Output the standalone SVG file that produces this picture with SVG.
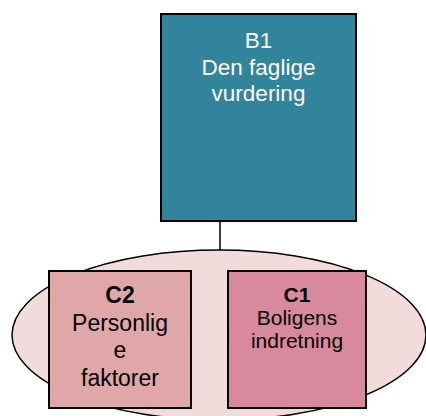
<svg xmlns="http://www.w3.org/2000/svg" width="426" height="416" viewBox="0 0 426 416">
<style>
.box{stroke:#000;stroke-width:2}
.t{font-family:"Liberation Sans",Arial,sans-serif;text-anchor:middle}
</style>
<rect width="426" height="416" fill="#fff"/>
<g id="connectors"><line x1="220" y1="221" x2="220" y2="251" stroke="#000" stroke-width="1.5"/></g>
<g id="group-ellipse"><ellipse cx="219" cy="335" rx="207" ry="85" fill="#F2DCDB" stroke="#000" stroke-width="1.5"/></g>
<g id="B1"><rect class="box" x="161" y="14" width="195" height="207" fill="#31849B"/>
<text class="t" fill="#fff" font-size="22.5"><tspan x="258.5" y="48">B1</tspan><tspan x="258.5" y="75">Den faglige</tspan><tspan x="258.5" y="101">vurdering</tspan></text></g>
<g id="C2"><rect class="box" x="49" y="271" width="142" height="137" fill="#E0A7A8"/>
<text class="t" fill="#000" font-size="23"><tspan x="120" y="303" font-weight="bold">C2</tspan><tspan x="120" y="331">Personlig</tspan><tspan x="120" y="358">e</tspan><tspan x="120" y="386">faktorer</tspan></text></g>
<g id="C1"><rect class="box" x="228" y="271" width="138" height="137" fill="#D9899E"/>
<text class="t" fill="#000" font-size="21"><tspan x="297" y="302" font-weight="bold">C1</tspan><tspan x="297" y="325">Boligens</tspan><tspan x="297" y="348">indretning</tspan></text></g>
</svg>
